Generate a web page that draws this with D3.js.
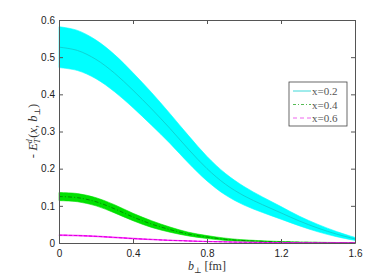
<!DOCTYPE html>
<html>
<head>
<meta charset="utf-8">
<script src="https://d3js.org/d3.v7.min.js"></script>
<style>
  body { margin: 0; background: #fff; }
  .tick text { font-family: "Liberation Sans", Arial, sans-serif; font-size: 10px; fill: #222; }
</style>
</head>
<body>
<div id="chart"></div>
<script>
// b_perp grid [fm]
const bGrid = [0, 0.1, 0.2, 0.3, 0.4, 0.5, 0.6, 0.7, 0.8, 0.9, 1.0, 1.1, 1.2, 1.3, 1.4, 1.5, 1.6];

// x = 0.2
const x02Mid = [0.527, 0.518, 0.494, 0.457, 0.411, 0.361, 0.308, 0.252, 0.200, 0.158, 0.127, 0.103, 0.081, 0.059, 0.040, 0.024, 0.011];
const x02Lo  = [0.472, 0.464, 0.442, 0.407, 0.364, 0.317, 0.268, 0.215, 0.167, 0.129, 0.102, 0.082, 0.064, 0.046, 0.030, 0.017, 0.007];
const x02Hi  = [0.582, 0.572, 0.546, 0.507, 0.458, 0.405, 0.348, 0.289, 0.233, 0.187, 0.152, 0.124, 0.098, 0.072, 0.050, 0.031, 0.015];

// x = 0.4
const x04Mid = [0.125, 0.122, 0.111, 0.092, 0.070, 0.051, 0.036, 0.024, 0.016, 0.010, 0.0065, 0.0045, 0.003, 0.002, 0.0015, 0.001, 0.0008];
const x04Lo  = [0.114, 0.111, 0.100, 0.081, 0.060, 0.042, 0.029, 0.019, 0.012, 0.007, 0.0045, 0.003, 0.002, 0.0013, 0.001, 0.0007, 0.0005];
const x04Hi  = [0.136, 0.133, 0.122, 0.103, 0.080, 0.060, 0.043, 0.029, 0.020, 0.013, 0.0085, 0.006, 0.004, 0.0027, 0.002, 0.0013, 0.001];

// x = 0.6
const x06Mid = [0.021, 0.020, 0.018, 0.015, 0.012, 0.0095, 0.0072, 0.0055, 0.004, 0.003, 0.002, 0.0015, 0.001, 0.0007, 0.0005, 0.0004, 0.0003];
const x06Lo  = [0.020, 0.019, 0.017, 0.014, 0.011, 0.0087, 0.0066, 0.005, 0.0036, 0.0027, 0.0018, 0.0013, 0.0009, 0.0006, 0.0004, 0.0003, 0.0002];
const x06Hi  = [0.022, 0.021, 0.019, 0.016, 0.013, 0.0103, 0.0078, 0.006, 0.0044, 0.0033, 0.0022, 0.0017, 0.0011, 0.0008, 0.0006, 0.0005, 0.0004];

const xTicks = [0, 0.4, 0.8, 1.2, 1.6];
const yTicks = [0, 0.1, 0.2, 0.3, 0.4, 0.5, 0.6];
const legendLabels = ["x=0.2", "x=0.4", "x=0.6"];

const width = 382, height = 275;
const margin = { top: 20, right: 27, bottom: 32, left: 59 };
const w = width - margin.left - margin.right;
const h = height - margin.top - margin.bottom;

const svg = d3.select("#chart").append("svg")
    .attr("width", width)
    .attr("height", height);

const g = svg.append("g").attr("transform", `translate(${margin.left},${margin.top})`);

const x = d3.scaleLinear().domain([0, 1.6]).range([0, w]);
const y = d3.scaleLinear().domain([0, 0.6]).range([h, 0]);

const series = [
    { mid: x02Mid, lo: x02Lo, hi: x02Hi, fill: "#00ffff", line: "#12c8c8", dash: null, lw: 0.8 },
    { mid: x04Mid, lo: x04Lo, hi: x04Hi, fill: "#00e000", line: "#007a00", dash: "4,2,1,2", lw: 0.8 },
    { mid: x06Mid, lo: x06Lo, hi: x06Hi, fill: "#ff00ff", line: "#cc00cc", dash: "3,2", lw: 0.8 }
];

const area = d3.area()
    .x(d => x(d.b))
    .y0(d => y(d.lo))
    .y1(d => y(d.hi))
    .curve(d3.curveCatmullRom);

const line = d3.line()
    .x(d => x(d.b))
    .y(d => y(d.v))
    .curve(d3.curveCatmullRom);

series.forEach(s => {
    const pts = bGrid.map((b, i) => ({ b: b, lo: s.lo[i], hi: s.hi[i], v: s.mid[i] }));
    g.append("path")
        .datum(pts)
        .attr("d", area)
        .attr("fill", s.fill)
        .attr("stroke", s.fill)
        .attr("stroke-width", 0.6);
    g.append("path")
        .datum(pts)
        .attr("d", line)
        .attr("fill", "none")
        .attr("stroke", s.line)
        .attr("stroke-width", s.lw)
        .attr("stroke-dasharray", s.dash);
});

// axes, ticks inward on all sides
const axisColor = "#555";
const axBottom = g.append("g").attr("transform", `translate(0,${h})`)
    .call(d3.axisBottom(x).tickValues(xTicks).tickSizeInner(-4).tickSizeOuter(0).tickPadding(7).tickFormat(d3.format("")));
const axLeft = g.append("g")
    .call(d3.axisLeft(y).tickValues(yTicks).tickSizeInner(-4).tickSizeOuter(0).tickPadding(4).tickFormat(d => d === 0 ? "0" : d3.format(".1f")(d)));
const axTop = g.append("g")
    .call(d3.axisTop(x).tickValues(xTicks).tickSizeInner(-4).tickSizeOuter(0).tickFormat(""));
const axRight = g.append("g").attr("transform", `translate(${w},0)`)
    .call(d3.axisRight(y).tickValues(yTicks).tickSizeInner(-4).tickSizeOuter(0).tickFormat(""));

[axBottom, axLeft, axTop, axRight].forEach(a => {
    a.selectAll("path, line").attr("stroke", axisColor);
});

// axis labels
const xl = svg.append("text")
    .attr("x", margin.left + w / 2)
    .attr("y", 270)
    .attr("text-anchor", "middle")
    .attr("font-family", "'Liberation Serif', 'DejaVu Serif', serif")
    .attr("font-size", 12)
    .attr("fill", "#333");
xl.append("tspan").attr("font-style", "italic").text("b");
xl.append("tspan").attr("font-size", 8).attr("dy", 3).text("⊥");
xl.append("tspan").attr("dy", -3).text(" [fm]");

const yl = svg.append("text")
    .attr("transform", "translate(37,131) rotate(-90)")
    .attr("text-anchor", "middle")
    .attr("font-family", "'Liberation Serif', 'DejaVu Serif', serif")
    .attr("font-size", 12.5)
    .attr("fill", "#333");
yl.append("tspan").text("- ");
yl.append("tspan").attr("font-style", "italic").text("E");
yl.append("tspan").attr("font-size", 8).attr("font-style", "italic").attr("dy", -5).text("d");
yl.append("tspan").attr("font-size", 8).attr("font-style", "italic").attr("dx", -4).attr("dy", 8).text("T");
yl.append("tspan").attr("dx", 1).attr("dy", -3).text("(");
yl.append("tspan").attr("font-style", "italic").text("x");
yl.append("tspan").text(", ");
yl.append("tspan").attr("font-style", "italic").text("b");
yl.append("tspan").attr("font-size", 8).attr("dy", 3).text("⊥");
yl.append("tspan").attr("dy", -3).text(")");

// legend
const lg = svg.append("g").attr("transform", "translate(289,82)");
lg.append("rect")
    .attr("width", 58).attr("height", 44)
    .attr("fill", "#fff").attr("stroke", "#444").attr("stroke-width", 0.8);
const legendStyles = [
    { color: "#40d8d8", dash: null },
    { color: "#55bb55", dash: "3,2,1,2" },
    { color: "#ee66ee", dash: "4,3" }
];
legendLabels.forEach((lab, i) => {
    const yy = 9 + i * 13.5;
    lg.append("line")
        .attr("x1", 4).attr("x2", 22).attr("y1", yy).attr("y2", yy)
        .attr("stroke", legendStyles[i].color)
        .attr("stroke-width", 1)
        .attr("stroke-dasharray", legendStyles[i].dash);
    lg.append("text")
        .attr("x", 23).attr("y", yy + 4)
        .attr("font-family", "'Liberation Serif', serif")
        .attr("font-size", 11)
        .attr("fill", "#555")
        .text(lab);
});
</script>
</body>
</html>
